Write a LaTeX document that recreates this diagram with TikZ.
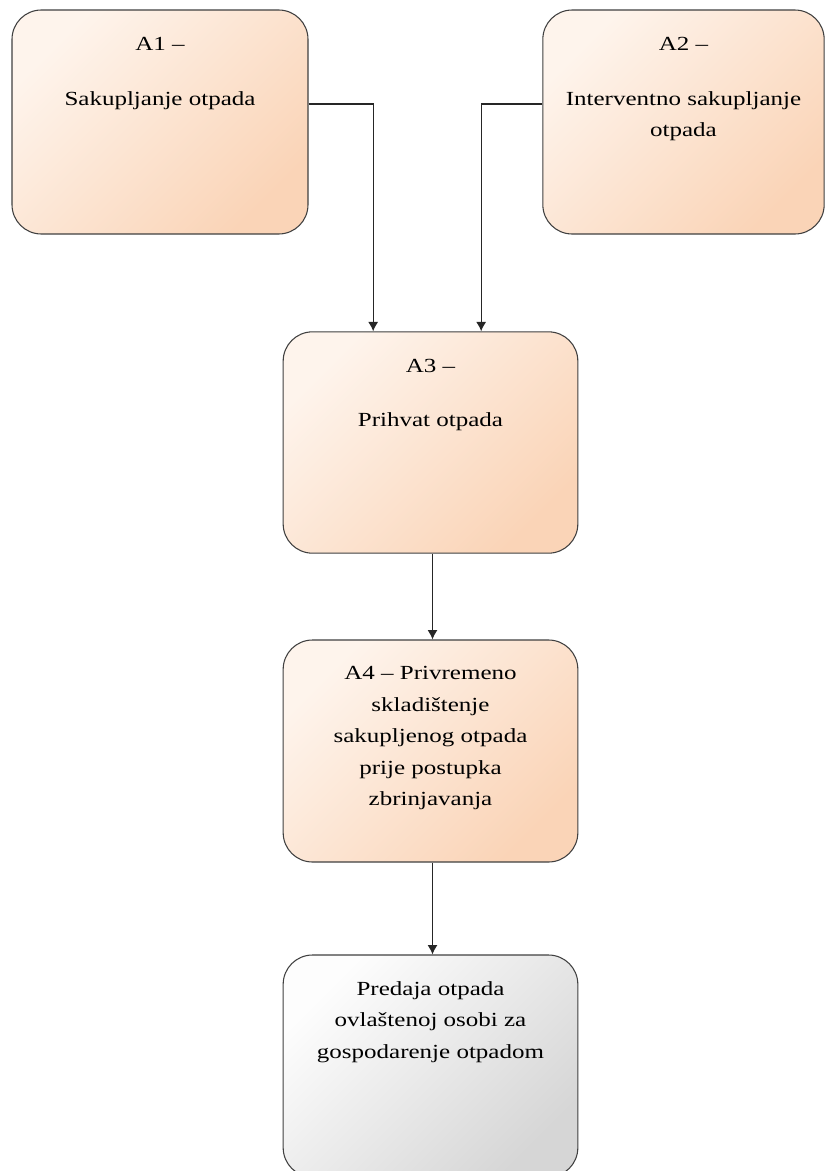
\documentclass[tikz,border=0pt]{standalone}
\usepackage{fontspec}
\setmainfont{Liberation Serif}[FakeStretch=1.25]
\usepackage{tikz}
\usetikzlibrary{positioning,arrows.meta}
\usepackage{xcolor}

\definecolor{peachlight}{RGB}{254,244,236}
\definecolor{peachdark}{RGB}{250,212,183}
\definecolor{greylight}{RGB}{253,253,253}
\definecolor{greydark}{RGB}{214,214,214}

\begin{document}
\begin{tikzpicture}[x=0.75pt,y=-0.75pt,
    box/.style={rectangle, rounded corners=22pt, draw=black!75, line width=0.8pt,
        top color=peachlight, bottom color=peachdark, shading angle=45},
    endbox/.style={box, top color=greylight, bottom color=greydark, shading angle=45},
    txt/.style={anchor=north, inner sep=0pt, align=center,
        font=\fontsize{15pt}{23.6pt}\selectfont},
    conn/.style={draw=black!85, line width=1pt, -{Latex[length=7pt,width=7.5pt]}}]
    \useasboundingbox (0,0) rectangle (826,1171);

    % A1 and A2 (top row)
    \node[box, minimum width=222pt, minimum height=168pt] (a1) at (160,122) {};
    \node[txt] (a1t) at ([yshift=-21pt]a1.north) {A1 --\\[17pt]Sakupljanje otpada};
    \node[box, minimum width=211pt, minimum height=168pt] (a2) at (683.5,122) {};
    \node[txt] (a2t) at ([yshift=-21pt]a2.north) {A2 --\\[17pt]Interventno sakupljanje\\otpada};

    % A3
    \node[box, minimum width=221pt, minimum height=166pt] (a3) at (430.5,442.5) {};
    \node[txt] (a3t) at ([yshift=-20.5pt]a3.north) {A3 --\\[17pt]Prihvat otpada};

    % A4
    \node[box, minimum width=221pt, minimum height=166.5pt] (a4) at (430.5,751) {};
    \node[txt] (a4t) at ([yshift=-20pt]a4.north) {A4 -- Privremeno\\skladištenje\\sakupljenog otpada\\prije postupka\\zbrinjavanja};

    % predaja (grey box, bottom)
    \node[endbox, minimum width=221pt, minimum height=166.5pt] (a5) at (430.5,1066) {};
    \node[txt] (a5t) at ([yshift=-20pt]a5.north) {Predaja otpada\\ovlaštenoj osobi za\\gospodarenje otpadom};

    % arrows
    \draw[conn] ([yshift=13.5pt]a1.east) -| ([xshift=-43pt]a3.north);
    \draw[conn] ([yshift=13.5pt]a2.west) -| ([xshift=38pt]a3.north);
    \draw[conn] ([xshift=1.5pt]a3.south) -- ([xshift=1.5pt]a4.north);
    \draw[conn] ([xshift=1.5pt]a4.south) -- ([xshift=1.5pt]a5.north);
\end{tikzpicture}
\end{document}
